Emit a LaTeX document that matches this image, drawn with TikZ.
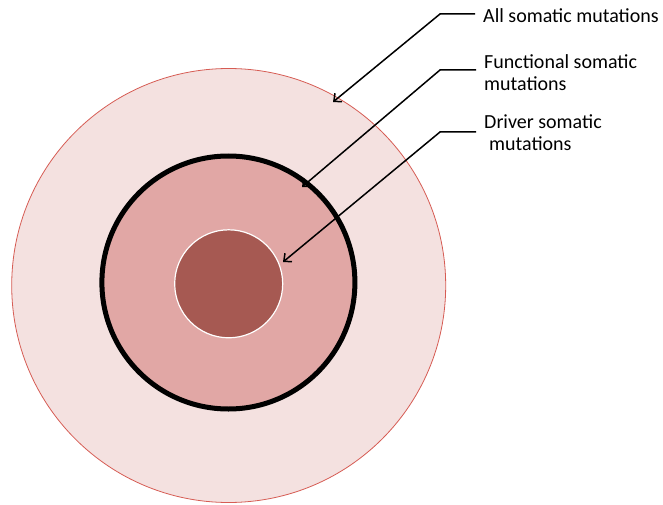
\documentclass[tikz,border=0pt]{standalone}
\usepackage{fontspec}
\setmainfont{Carlito}
\usetikzlibrary{arrows.meta}
\definecolor{outerfill}{RGB}{244,225,224}
\definecolor{outerline}{RGB}{214,92,84}
\definecolor{midfill}{RGB}{225,167,165}
\definecolor{innerfill}{RGB}{166,89,82}
\tikzset{
  lbl/.style={anchor=base west, inner sep=0pt, font=\fontsize{20}{22.4}\selectfont},
  pointer/.style={line width=1.5pt, -{Straight Barb[length=6pt,width=11pt]}},
}
\begin{document}
\begin{tikzpicture}[x=1pt,y=-1pt]
\useasboundingbox (0,0) rectangle (663,505);
% circles
\node[circle, draw=outerline, line width=0.8pt, fill=outerfill, minimum size=434pt, inner sep=0pt] (outer) at (228.7,285.5) {};
\node[circle, draw=black, line width=5pt, fill=midfill, minimum size=253pt, inner sep=0pt] (mid) at (228.4,282.5) {};
\node[circle, draw=white, line width=1.2pt, fill=innerfill, minimum size=108pt, inner sep=0pt] (inner) at (228.7,283.8) {};
% labels
\node[lbl] (t1) at (483,22.7) {All somatic mutations};
\node[lbl] (t2) at (484,68.3) {Functional somatic};
\node[lbl] (t2b) at (484,90.7) {mutations};
\node[lbl] (t3) at (484,128.3) {Driver somatic};
\node[lbl] (t3b) at (489,150.7) {mutations};
% connector points
\coordinate (s1) at (475,14);
\coordinate (k1) at (440,14);
\coordinate (e1) at (333,102);
\coordinate (s2) at (476,70);
\coordinate (k2) at (440,70);
\coordinate (e2) at (302,187);
\coordinate (s3) at (476,132);
\coordinate (k3) at (440,132);
\coordinate (e3) at (283,262);
\draw[pointer] (s1) -- (k1) -- (e1);
\draw[pointer] (s2) -- (k2) -- (e2);
\draw[pointer] (s3) -- (k3) -- (e3);
\end{tikzpicture}
\end{document}
